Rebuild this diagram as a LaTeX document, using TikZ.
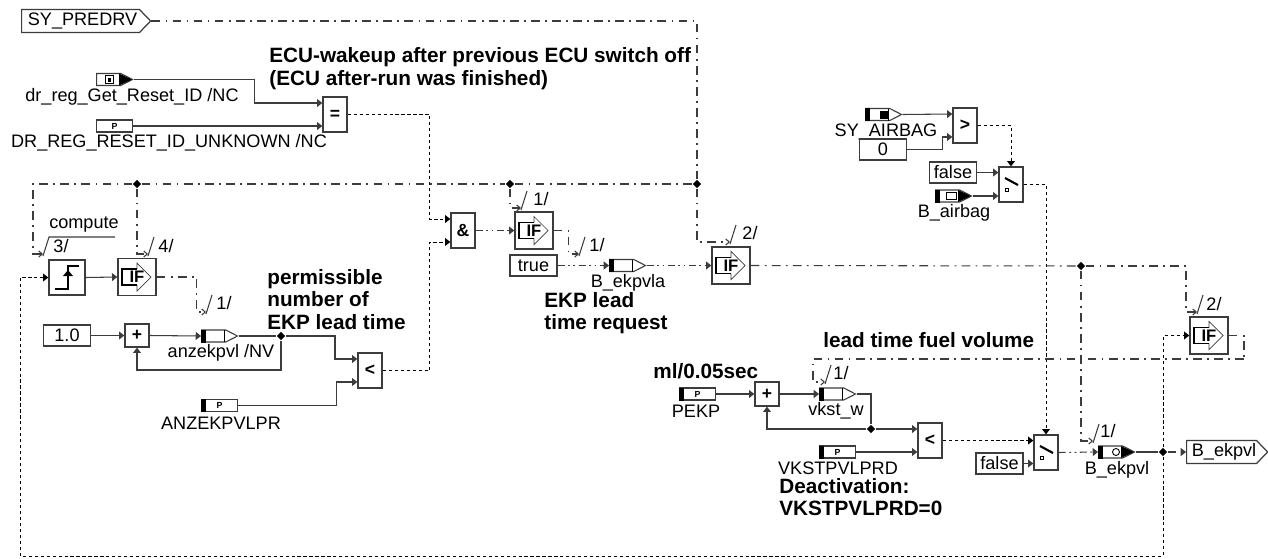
\documentclass[tikz,border=0pt]{standalone}
\usepackage{fontspec}
\setmainfont{Liberation Sans}
\usepackage{tikz}
\usetikzlibrary{arrows.meta,shapes.geometric,shapes.symbols}
\definecolor{edge}{RGB}{60,60,60}
\newcommand{\vartip}{\fill (23,-6) -- (36,0) -- (23,6) -- cycle;}
\newcommand{\varline}{\draw[line width=.5pt] (23,-6) -- (23,6);}
\newcommand{\varbar}{\fill (0,-6.5) rectangle (5,6.5);}
\newcommand{\atvar}[2]{\begin{scope}[shift={(#1.west)}]#2\end{scope}}
\newcommand{\ifglyph}[1]{\begin{scope}[shift={(#1.center)}]
    \draw[line width=.4pt,edge] (0,-8) -- (0,-14) -- (14,0) -- (0,14) -- (0,8);
    \draw[line width=.8pt] (0,-8) -- (-15,-8) -- (-15,8) -- (0,8);
  \end{scope}}
\newcommand{\swglyph}[1]{\begin{scope}[shift={(#1.center)}]
    \draw[line width=1.2pt] (-6,-6.5) -- (7,.5);
    \draw[line width=.5pt] (-6,3.5) rectangle (-3,6.5);
  \end{scope}}

\begin{document}
\begin{tikzpicture}[x=0.02cm,y=-0.02cm,
    >={Triangle[length=3pt,width=4.5pt]},
    ctl/.style={-{Straight Barb[length=2pt,width=3.5pt]}},
    sig/.style={line width=.6pt,edge,dash pattern=on 5pt off 3pt on 1pt off 3pt},
    sigdd/.style={line width=.6pt,edge,dash pattern=on 4pt off 2pt on 1pt off 2pt on 1pt off 2pt},
    dot/.style={line width=.55pt,black,dash pattern=on 1.8pt off 1.6pt},
    wire/.style={line width=.6pt,edge},
    opbox/.style={draw=edge,line width=.8pt,fill=white,minimum width=.48cm,minimum height=.7cm,inner sep=0pt,font=\bfseries\fontsize{10}{10}\selectfont},
    ifbox/.style={draw=edge,line width=.8pt,fill=white,minimum width=.76cm,minimum height=.74cm,inner sep=0pt,
      font=\bfseries\fontsize{9.5}{10}\selectfont},
    constbox/.style={draw=edge,line width=.7pt,fill=white,minimum width=.94cm,minimum height=.42cm,inner sep=0pt,font=\fontsize{10.3}{11}\selectfont},
    paramvar/.style={draw=edge,line width=.7pt,fill=white,minimum width=.72cm,minimum height=.24cm,inner sep=0pt,anchor=west,
      font=\bfseries\fontsize{5}{5}\selectfont},
    sigvar/.style={signal,signal to=east,signal from=nowhere,signal pointer angle=54,draw=edge,line width=.6pt,fill=white,
      minimum width=.72cm,minimum height=.24cm,inner sep=0pt,anchor=west},
    portbox/.style={signal,signal to=east,signal from=nowhere,signal pointer angle=92,draw=edge,line width=.7pt,fill=white,
      minimum height=.46cm,inner sep=0pt,anchor=west,font=\fontsize{10.3}{11}\selectfont},
    junc/.style={diamond,fill=black,inner sep=0pt,minimum size=.17cm},
    lbl/.style={inner sep=0pt,font=\fontsize{10.3}{11}\selectfont},
    note/.style={inner sep=0pt,anchor=west,align=left,font=\bfseries\fontsize{11.8}{12.75}\selectfont},
  ]
  \useasboundingbox (0,0) rectangle (1268,558);
  \fill[white] (0,0) rectangle (1268,558);

  % ports
  \node[portbox,minimum width=2.58cm] (predrv) at (21,21) {\hspace{.08cm}SY\_PREDRV};
  \node[portbox,minimum width=1.62cm] (outpvl) at (1186,452) {\hspace{.1cm}B\_ekpvl};

  % compare reset id
  \node[sigvar] (getid) at (96,79.5) {};
  \atvar{getid}{\draw[line width=.5pt] (9,-4) rectangle (17,4); \fill (12,-2) rectangle (15,2); \vartip}
  \node[paramvar] (unkid) at (96,126) {P};
  \node[opbox] (eqbox) at (335,114.5) {=};
  \node[lbl] (getidtxt) at (132,97) {dr\_reg\_Get\_Reset\_ID /NC};
  \node[lbl] (unkidtxt) at (169,143) {DR\_REG\_RESET\_ID\_UNKNOWN /NC};
  \node[note] (wakenote) at (269,68.5) {ECU-wakeup after previous ECU switch off\\(ECU after-run was finished)};
  \draw[wire,->] (getid.east) -- ++(121,0) |- ([yshift=.23cm]eqbox.west);
  \draw[wire,->] (unkid.east) -- (unkid.east -| eqbox.west);

  % first row: edge and if
  \node[opbox,minimum width=.72cm] (stepb) at (67,277.5) {};
  \draw[line width=1.2pt] (55,289) -- (68,289) -- (68,266) -- (79,266);
  \fill (68,270) -- (73,276) -- (63,276) -- cycle;
  \node[ifbox] (ifcomp) at (137,277) {IF};
  \ifglyph{ifcomp}
  \draw[wire,->] (stepb.east) -- (ifcomp.west);

  % count row
  \node[constbox] (oneval) at (67,335.5) {1.0};
  \node[opbox,minimum height=.46cm] (plusa) at (137,335.5) {+};
  \node[sigvar] (anzvar) at (201,336) {};
  \atvar{anzvar}{\varbar \varline}
  \node[junc] (jcnt) at (281,336) {};
  \node[opbox] (ltcnt) at (370,370.5) {<};
  \node[paramvar] (anzpar) at (201,405.5) {P};
  \atvar{anzpar}{\varbar}
  \node[lbl] (anzvartxt) at (221,353) {anzekpvl /NV};
  \node[lbl] (anzpartxt) at (221,423) {ANZEKPVLPR};
  \node[note] (cntnote) at (267,299.5) {permissible\\number of\\EKP lead time};
  \draw[wire,->] (oneval.east) -- (plusa.west);
  \draw[wire,->] (plusa.east) -- (anzvar.west);
  \draw[wire] (anzvar.east) -- (jcnt);
  \draw[wire,->] (jcnt) -- ++(54,0) |- ([yshift=.23cm]ltcnt.west);
  \draw[wire,->] (anzpar.east) -- ++(98,0) |- ([yshift=-.23cm]ltcnt.west);
  \draw[wire,->] (jcnt) -- ++(0,34) -| (plusa.south);

  % and gate and lead time request
  \node[opbox] (andbox) at (463,230.5) {\&};
  \node[ifbox] (ifreq) at (534,230.5) {IF};
  \ifglyph{ifreq}
  \node[constbox] (trueval) at (533.5,265.5) {true};
  \node[sigvar] (reqvar) at (609,265.5) {};
  \atvar{reqvar}{\varbar \varline}
  \node[ifbox] (ifmain) at (731,265.5) {IF};
  \ifglyph{ifmain}
  \node[lbl] (reqtxt) at (628,283) {B\_ekpvla};
  \node[note] (reqnote) at (544,313) {EKP lead\\time request};
  \draw[dot,->] (eqbox.east) -- ++(82,0) |- ([yshift=.23cm]andbox.west);
  \draw[dot,->] (ltcnt.east) -- ++(47,0) |- ([yshift=-.23cm]andbox.west);
  \draw[sigdd,->] (andbox.east) -- (ifreq.west);
  \draw[sigdd,->] (trueval.east) -- (reqvar.west);
  \draw[sigdd,->] (reqvar.east) -- (ifmain.west);

  % control bus
  \node[junc] (jbusa) at (137,184) {};
  \node[junc] (jbusb) at (510,184) {};
  \node[junc] (jbusc) at (697,184) {};
  \coordinate (trga) at (43,254);
  \coordinate (trgb) at (148,254);
  \coordinate (trgc) at (206,312);
  \coordinate (trgd) at (521,208);
  \coordinate (trge) at (579,254);
  \coordinate (trgf) at (730,242);
  \draw[sig] (predrv.east) -| (jbusc);
  \draw[sig] (jbusa) -- (jbusb);
  \draw[sig] (jbusb) -- (jbusc);
  \draw[sig,ctl] (jbusa) -| ++(-104,35) |- (trga);
  \draw[sig,ctl] (jbusa) |- (trgb);
  \draw[sig,ctl] (ifcomp.east) -- ++(40,0) |- (trgc);
  \draw[sig,ctl] (jbusb) |- (trgd);
  \draw[sig,ctl] (ifreq.east) -- ++(15,0) |- (trge);
  \draw[sig,ctl] (jbusc) |- (trgf);
  \draw[wire] ([yshift=-.04cm]trga) -- ++(6,-19) -- ++(66,0);
  \draw[wire] ([yshift=-.04cm]trgb) -- ++(6,-19);
  \draw[wire] ([yshift=-.04cm]trgc) -- ++(6,-19);
  \draw[wire] ([yshift=-.04cm]trgd) -- ++(6,-19);
  \draw[wire] ([yshift=-.04cm]trge) -- ++(6,-19);
  \draw[wire] ([yshift=-.04cm]trgf) -- ++(6,-19);
  \node[lbl] (comptxt) at (84,225) {compute};
  \node[lbl] (trgatxt) at (61,246) {3/};
  \node[lbl] (trgbtxt) at (166,246) {4/};
  \node[lbl] (trgctxt) at (224,303) {1/};
  \node[lbl] (trgdtxt) at (541,199) {1/};
  \node[lbl] (trgetxt) at (597,245) {1/};
  \node[lbl] (trgftxt) at (750,233) {2/};

  % airbag branch
  \node[sigvar] (airvar) at (865,114.5) {};
  \atvar{airvar}{\varbar \fill (15,-4) rectangle (23,4); \varline}
  \node[lbl] (airtxt) at (886,132) {SY\_AIRBAG};
  \node[constbox] (zeroval) at (883,149.5) {0};
  \node[opbox] (gtbox) at (965,125.5) {>};
  \node[constbox] (falsea) at (953,172.5) {false};
  \node[sigvar] (airbag) at (935,196) {};
  \atvar{airbag}{\varbar \draw[line width=.5pt] (11,-3.5) rectangle (21,3.5); \vartip}
  \node[opbox] (swa) at (1011,184.5) {};
  \swglyph{swa}
  \node[lbl] (bagtxt) at (954,213) {B\_airbag};
  \draw[wire,->] (airvar.east) -- ([yshift=.23cm]gtbox.west);
  \draw[wire,->] (zeroval.east) -- ++(35,0) |- ([yshift=-.23cm]gtbox.west);
  \draw[dot,->] (gtbox.east) -| (swa.north);
  \draw[wire,->] (falsea.east) -- (falsea.east -| swa.west);
  \draw[wire,->] (airbag.east) -- (airbag.east -| swa.west);

  % fuel volume row
  \node[paramvar] (pekp) at (679,394) {P};
  \atvar{pekp}{\varbar}
  \node[opbox,minimum height=.48cm] (plusb) at (767,394) {+};
  \node[sigvar] (vkst) at (819,394) {};
  \atvar{vkst}{\varbar \varline}
  \node[junc] (jvol) at (871,429) {};
  \node[opbox] (ltvol) at (930,440.5) {<};
  \node[paramvar] (vkpar) at (819,452) {P};
  \atvar{vkpar}{\varbar}
  \node[lbl] (pekptxt) at (696,411) {PEKP};
  \node[lbl] (vksttxt) at (836,411) {vkst\_w};
  \node[lbl] (vkpartxt) at (838,468.5) {VKSTPVLPRD};
  \node[note] (mlnote) at (653,371) {ml/0.05sec};
  \node[note] (volnote) at (823,340) {lead time fuel volume};
  \node[note] (deanote) at (779,497) {Deactivation:\\VKSTPVLPRD=0};
  \draw[wire,->] (pekp.east) -- (plusb.west);
  \draw[wire,->] (plusb.east) -- (vkst.west);
  \draw[wire] (vkst.east) -| (jvol);
  \draw[wire,->] (jvol) -- (jvol -| ltvol.west);
  \draw[wire,->] (jvol) -| (plusb.south);
  \draw[wire,->] (vkpar.east) -- (vkpar.east -| ltvol.west);

  % output selection
  \node[opbox] (swb) at (1046,452.5) {};
  \swglyph{swb}
  \node[constbox] (falseb) at (999.5,463.5) {false};
  \node[sigvar] (ekpvl) at (1098,452) {};
  \atvar{ekpvl}{\varbar \draw[line width=.5pt] (18,0) circle (3.5); \vartip}
  \node[junc] (jout) at (1163,452) {};
  \node[junc] (jmain) at (1081,266) {};
  \node[ifbox] (ifvol) at (1209,335.5) {IF};
  \ifglyph{ifvol}
  \node[lbl] (ekpvltxt) at (1117,470) {B\_ekpvl};
  \coordinate (trgg) at (1197,312);
  \coordinate (trgh) at (1093,441);
  \coordinate (trgi) at (825,382);
  \coordinate (loopr) at (1163,556);
  \coordinate (loopl) at (20,556);
  \coordinate (volturn) at (1244,359);
  \draw[dot,->] (ltvol.east) -- (ltvol.east -| swb.west);
  \draw[wire,->] (falseb.east) -- (falseb.east -| swb.west);
  \draw[dot,->] (swa.east) -| (swb.north);
  \draw[sigdd,->] (swb.east) -- (ekpvl.west);
  \draw[wire] (ekpvl.east) -- (jout);
  \draw[sig,->] (jout) -- (outpvl.west);
  \draw[sig] (ifmain.east) -- (jmain);
  \draw[sig,ctl] (jmain) -- ++(105,0) |- (trgg);
  \draw[sig,ctl] (jmain) |- (trgh);
  \draw[dot,->] (jout) |- (ifvol.west);
  \draw[dot,->] (jout) -- (loopr) -- (loopl) |- (stepb.west);
  \draw[sig] (ifvol.east) -| (volturn);
  \draw[sig,ctl] (volturn) -- ++(-431,0) |- (trgi);
  \draw[wire] ([yshift=-.04cm]trgg) -- ++(6,-19);
  \draw[wire] ([yshift=-.04cm]trgh) -- ++(6,-19);
  \draw[wire] ([yshift=-.04cm]trgi) -- ++(6,-19);
  \node[lbl] (trggtxt) at (1214,304) {2/};
  \node[lbl] (trghtxt) at (1108,431) {1/};
  \node[lbl] (trgitxt) at (841,373) {1/};
\end{tikzpicture}
\end{document}
